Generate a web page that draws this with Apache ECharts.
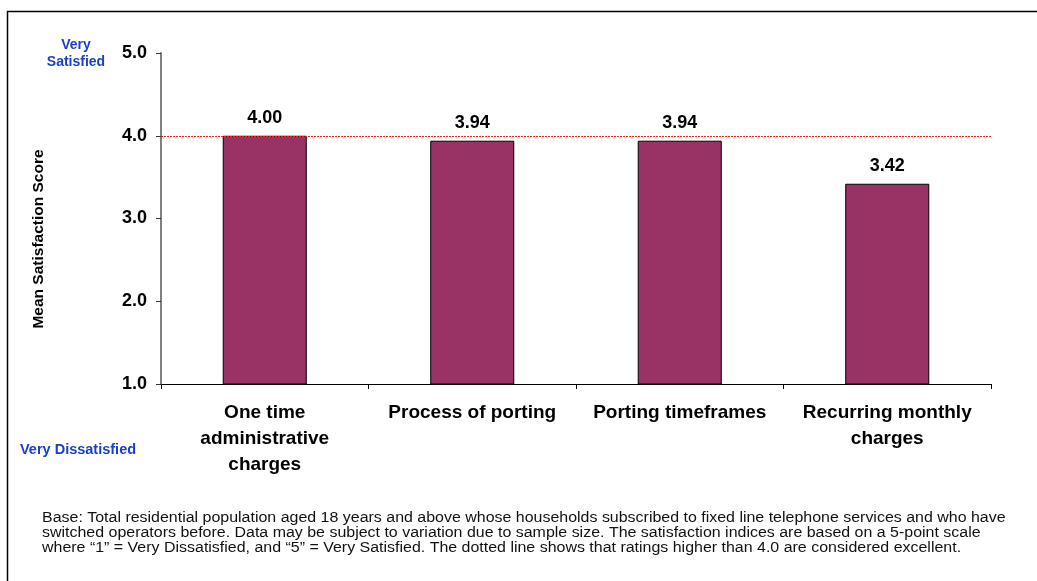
<!DOCTYPE html>
<html>
<head>
<meta charset="utf-8">
<script src="https://cdn.jsdelivr.net/npm/echarts@6/dist/echarts.min.js"></script>
<style>
  html, body { margin: 0; padding: 0; background: #fff; }
  #chart { width: 1037px; height: 581px; }
</style>
</head>
<body>
<div id="chart"></div>
<script>
(function() {
  var myChart = echarts.init(document.getElementById("chart"));

  // categories and mean scores
  var categories = ["One time\nadministrative\ncharges", "Process of porting", "Porting timeframes", "Recurring monthly\ncharges"];
  var scores = [4.00, 3.94, 3.94, 3.42];
  var excellentLine = 4.0;

  var footnote = [
    "Base: Total residential population aged 18 years and above whose households subscribed to fixed line telephone services and who have",
    "switched operators before. Data may be subject to variation due to sample size. The satisfaction indices are based on a 5-point scale",
    "where \u201c1\u201d = Very Dissatisfied, and \u201c5\u201d = Very Satisfied. The dotted line shows that ratings higher than 4.0 are considered excellent."
  ];

  var option = {
    animation: false,
    textStyle: { fontFamily: "Arial, 'Liberation Sans', sans-serif" },
    grid: { left: 161, right: 46, top: 53, bottom: 197 },
    graphic: [
      { type: "rect", shape: { x: 7.5, y: 11.5, width: 1040, height: 580 },
        style: { fill: null, stroke: "#000", lineWidth: 1.5 }, silent: true },
      { type: "text", x: 76, y: 37, style: {
          text: "Very\nSatisfied", fill: "#1a40c8", font: "bold 14px Arial, 'Liberation Sans'",
          textAlign: "center", lineHeight: 17 } },
      { type: "text", x: 20, y: 450, style: {
          text: "Very Dissatisfied", fill: "#1a40c8", font: "bold 14.5px Arial, 'Liberation Sans'",
          textVerticalAlign: "middle" } },
      // y axis title, placed like the original (not centred on the axis)
      { type: "text", x: 39, y: 239, rotation: Math.PI / 2, style: {
          text: "Mean Satisfaction Score", fill: "#000", font: "bold 15.5px Arial, 'Liberation Sans'",
          textAlign: "center", textVerticalAlign: "middle" } },
      { type: "text", x: 42, y: 511, scaleX: 1.14, style: {
          text: footnote.join("\n"), fill: "#111", lineHeight: 15,
          font: "14px Arial, 'Liberation Sans'" } }
    ],
    xAxis: {
      type: "category",
      data: categories,
      axisLine: { lineStyle: { color: "#000", width: 1 } },
      axisTick: { show: true, length: 5, lineStyle: { color: "#000" } },
      axisLabel: { interval: 0, color: "#000", fontWeight: "bold", fontSize: 19, lineHeight: 26, margin: 16 }
    },
    yAxis: {
      type: "value",
      min: 1, max: 5, interval: 1,
      splitLine: { show: false },
      axisLine: { show: true, lineStyle: { color: "#808080", width: 2 } },
      axisTick: { show: true, length: 5, lineStyle: { color: "#333" } },
      axisLabel: { color: "#000", fontWeight: "bold", fontSize: 18, margin: 14,
        formatter: function(v) { return v.toFixed(1); } }
    },
    series: [{
      type: "bar",
      data: scores,
      barWidth: "40.5%",
      itemStyle: { color: "#993366", borderColor: "#000", borderWidth: 1 },
      label: { show: true, position: "top", distance: 9, color: "#000", fontWeight: "bold", fontSize: 18,
        formatter: function(p) { return p.value.toFixed(2); } },
      markLine: {
        silent: true, symbol: ["none", "none"],
        label: { show: false },
        lineStyle: { color: "#ff2020", type: [2, 1], width: 1, opacity: 1 },
        emphasis: { disabled: true },
        data: [{ yAxis: excellentLine }]
      }
    }]
  };
  myChart.setOption(option);
  window.addEventListener("resize", function() {
    myChart.resize();
  });
})();
</script>
</body>
</html>
